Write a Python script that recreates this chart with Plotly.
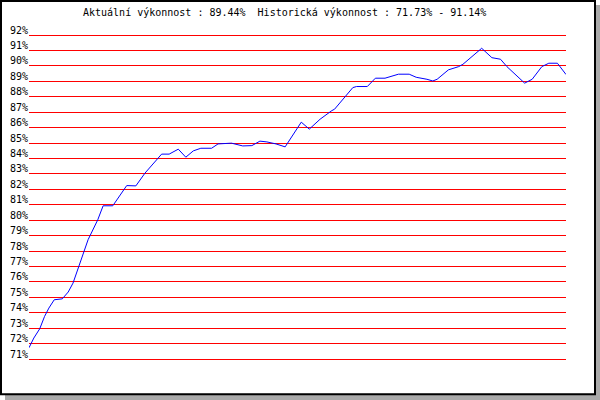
"""Performance history chart (výkonnost) recreated with Plotly."""

import plotly.graph_objects as go

# time position along the history (0 = first record, 100 = latest)
t = [0, 0.9, 2.0, 2.9, 3.7, 4.7, 6.2, 7.3, 8.2, 9.3, 10.4, 11.0, 12.8, 13.8, 15.6,
     18.2, 19.9, 21.6, 24.7, 26.1, 27.8, 29.2, 30.6, 32.0, 34.0, 35.2, 37.7, 39.8,
     41.5, 43.0, 44.3, 46.0, 47.7, 50.7, 52.2, 54.2, 56.4, 56.9, 60.3, 61.0, 63.0,
     64.5, 66.3, 68.8, 70.8, 72.1, 74.1, 75.2, 76.0, 78.1, 80.0, 80.8, 84.3, 86.2,
     87.8, 89.0, 92.3, 93.7, 95.5, 96.8, 98.4, 100]

# performance in percent
vykon = [71.73, 72.36, 72.96, 73.76, 74.30, 74.84, 74.90, 75.34, 75.92, 77.00, 78.08,
         78.73, 80.02, 80.93, 80.93, 82.24, 82.22, 83.05, 84.28, 84.28, 84.60, 84.08,
         84.49, 84.66, 84.66, 84.94, 84.99, 84.81, 84.83, 85.12, 85.07, 84.94, 84.75,
         86.35, 85.90, 86.54, 87.10, 87.19, 88.59, 88.66, 88.66, 89.20, 89.20, 89.46,
         89.46, 89.26, 89.13, 89.02, 89.13, 89.74, 89.95, 90.10, 91.14, 90.53, 90.43,
         89.95, 88.88, 89.13, 89.95, 90.17, 90.17, 89.44]

aktualni = 89.44
hist_min = 71.73
hist_max = 91.14
y_min, y_max = 71, 92

W, H = 600, 400
# plotly drops gridlines closer than 1px to the plot edge, so pad the
# y range by 2px and widen the top/bottom margins by the same amount
L, R, T, B = 29, 34, 33, 39
PAD_PX = 2
FONT = "DejaVu Sans Mono"

unit_px = (H - T - B - 2 * PAD_PX) / (y_max - y_min)
pad = PAD_PX / unit_px


def px_x(px):
    return (px - L) / (W - L - R)


def px_y(py):
    return (H - B - py) / (H - T - B)


fig = go.Figure()
fig.add_trace(go.Scatter(x=t, y=vykon, mode="lines", cliponaxis=False,
                         line=dict(color="#0000ff", width=1), hoverinfo="y"))

# shadow + black frame
fig.add_shape(type="rect", xref="paper", yref="paper", layer="below",
              x0=px_x(5), x1=px_x(600), y0=px_y(400), y1=px_y(5),
              fillcolor="#aaaaaa", line=dict(width=0))
fig.add_shape(type="rect", xref="paper", yref="paper", layer="below",
              x0=px_x(1), x1=px_x(595), y0=px_y(394.3), y1=px_y(1),
              fillcolor="white", line=dict(color="black", width=2))

title = (f"Aktuální výkonnost : {aktualni:.2f}%\u00a0\u00a0"
         f"Historická výkonnost : {hist_min:.2f}% - {hist_max:.2f}%")
fig.add_annotation(text=title, xref="paper", yref="paper", x=px_x(81), y=px_y(13),
                   xanchor="left", yanchor="middle", showarrow=False,
                   font=dict(family=FONT, size=10, color="black"))

fig.update_xaxes(range=[t[0], t[-1]], visible=False, automargin=False)
fig.update_yaxes(range=[y_min - pad, y_max + pad], dtick=1, tick0=y_min,
                 ticksuffix="%", ticklabelposition="outside top", ticklabelshift=2,
                 automargin=False, showgrid=True, gridcolor="#ff0000", gridwidth=1,
                 zeroline=False, showline=False, ticks="",
                 tickfont=dict(family=FONT, size=10, color="black"))

fig.update_layout(width=W, height=H, margin=dict(l=L, r=R, t=T, b=B),
                  paper_bgcolor="white", plot_bgcolor="rgba(0,0,0,0)",
                  showlegend=False, font=dict(family=FONT))

# the page body has a default 8px margin; drop it so the chart sits at (0, 0)
fig.write_html("out.html", config={"displayModeBar": False},
               post_script="document.body.style.margin = '0';")
